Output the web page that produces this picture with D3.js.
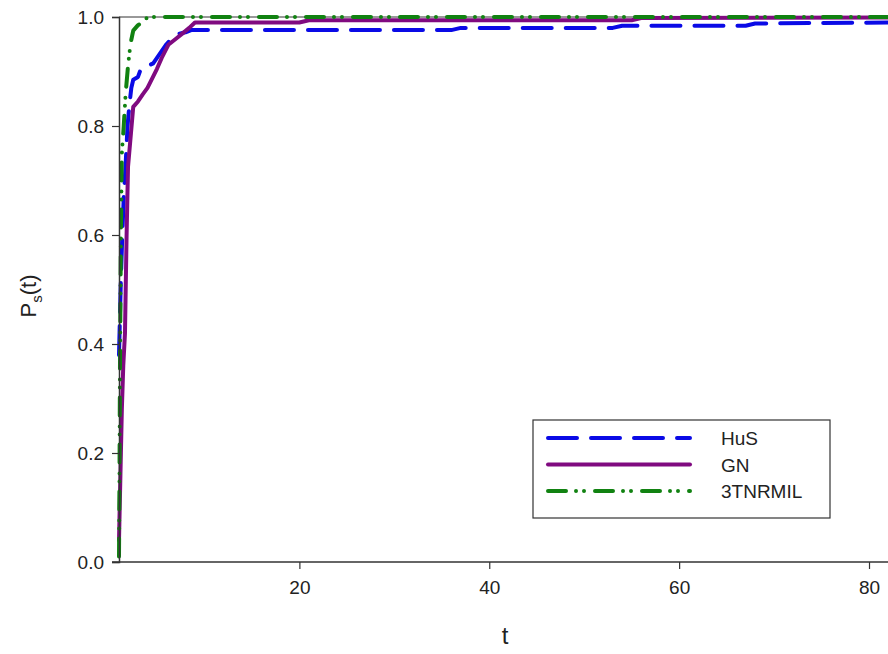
<!DOCTYPE html>
<html>
<head>
<meta charset="utf-8">
<script src="https://cdn.jsdelivr.net/npm/d3@7"></script>
<style>
  body { margin: 0; background: #fff; }
  svg { display: block; font-family: "Liberation Sans", Arial, sans-serif; }
</style>
</head>
<body>
<svg id="chart"></svg>
<script>
// series names, in legend order
var series_names = ["HuS", "GN", "3TNRMIL"];

// HuS (blue, dashed)
var hus_t = [1, 1.1, 1.2, 1.35, 1.5, 1.7, 1.9, 2.1, 2.3, 2.5, 3.0, 3.3, 4.0, 4.6, 5.0, 5.4, 6.0, 6.5, 7.0, 8.0, 8.6, 36, 37, 53, 54, 67, 68, 82];
var hus_p = [0.38, 0.45, 0.52, 0.6, 0.67, 0.73, 0.8, 0.84, 0.87, 0.885, 0.89, 0.905, 0.91, 0.915, 0.925, 0.935, 0.95, 0.96, 0.968, 0.972, 0.976, 0.976, 0.98, 0.98, 0.984, 0.984, 0.988, 0.99];

// GN (purple, solid)
var gn_t = [1, 1.1, 1.2, 1.3, 1.45, 1.63, 1.8, 1.95, 2.26, 2.5, 3.0, 3.5, 4.0, 5.0, 5.5, 6.2, 7.0, 7.7, 8.4, 9.0, 20, 21, 55, 56, 82];
var gn_p = [0.04, 0.12, 0.2, 0.28, 0.36, 0.42, 0.6, 0.725, 0.787, 0.835, 0.845, 0.858, 0.87, 0.905, 0.925, 0.949, 0.96, 0.97, 0.98, 0.99, 0.99, 0.994, 0.994, 0.998, 0.999];

// 3TNRMIL (green, dash-dot-dot)
var tn_t = [1, 1.05, 1.1, 1.2, 1.3, 1.5, 1.7, 1.95, 2.2, 2.5, 3.0, 3.5, 4.0, 82];
var tn_p = [0.01, 0.15, 0.35, 0.6, 0.75, 0.8, 0.86, 0.91, 0.95, 0.975, 0.985, 0.99, 1.0, 1.0];

var x_ticks = [20, 40, 60, 80];
var y_ticks = [0, 0.2, 0.4, 0.6, 0.8, 1.0];

var w = 888, h = 654;
var m_left = 119, m_right = 888, m_top = 17, m_bottom = 562;

var colors = {
  "HuS": "#0a0ae6",
  "GN": "#800a80",
  "3TNRMIL": "#118211"
};
var dashes = {
  "HuS": "29,14",
  "GN": null,
  "3TNRMIL": "18,10,0,8,0,11"
};

var svg = d3.select("#chart").attr("width", w).attr("height", h);

var x = d3.scaleLinear().domain([1, 82]).range([m_left, m_right]);
var y = d3.scaleLinear().domain([0, 1]).range([m_bottom, m_top]);

var series = [
  { name: "HuS", data: d3.zip(hus_t, hus_p) },
  { name: "GN", data: d3.zip(gn_t, gn_p) },
  { name: "3TNRMIL", data: d3.zip(tn_t, tn_p) }
];

var line = d3.line()
  .x(function(d) { return x(d[0]); })
  .y(function(d) { return y(d[1]); });

// top frame line
svg.append("line")
  .attr("x1", m_left).attr("x2", m_right)
  .attr("y1", m_top).attr("y2", m_top)
  .attr("stroke", "#333").attr("stroke-width", 1);

// curves
series.forEach(function(s) {
  svg.append("path")
    .attr("d", line(s.data))
    .attr("fill", "none")
    .attr("stroke", colors[s.name])
    .attr("stroke-width", 4)
    .attr("stroke-linecap", "round")
    .attr("stroke-linejoin", "round")
    .attr("stroke-dasharray", dashes[s.name]);
});

// axes
var xAxis = svg.append("g")
  .attr("transform", "translate(0," + m_bottom + ")")
  .call(d3.axisBottom(x).tickValues(x_ticks).tickSize(7).tickPadding(12).tickFormat(d3.format("d")));

var yAxis = svg.append("g")
  .attr("transform", "translate(" + m_left + ",0)")
  .call(d3.axisLeft(y).tickValues(y_ticks).tickSize(7).tickPadding(8).tickFormat(d3.format(".1f")));

[xAxis, yAxis].forEach(function(a) {
  a.attr("font-family", "'Liberation Sans', Arial, sans-serif").attr("font-size", 19);
  a.select(".domain").attr("stroke", "#333").attr("stroke-width", 1.5);
  a.selectAll(".tick line").attr("stroke", "#333").attr("stroke-width", 1.2);
  a.selectAll(".tick text").attr("fill", "#222");
});
// extend x-axis line under the 0.0 tick
xAxis.select(".domain").attr("d", "M" + (m_left - 7) + ",0H" + m_right);

// axis titles
svg.append("text")
  .attr("x", 505).attr("y", 644)
  .attr("text-anchor", "middle")
  .style("font-size", "24px")
  .attr("fill", "#222")
  .text("t");

var ylab = svg.append("text")
  .attr("transform", "translate(36,296) rotate(-90)")
  .attr("text-anchor", "middle")
  .style("font-size", "22px")
  .attr("fill", "#222");
ylab.append("tspan").text("P");
ylab.append("tspan").attr("dy", 6).style("font-size", "15px").text("s");
ylab.append("tspan").attr("dy", -6).text("(t)");

// legend
var legend = svg.append("g");
legend.append("rect")
  .attr("x", 533).attr("y", 420)
  .attr("width", 297).attr("height", 98)
  .attr("fill", "#fff")
  .attr("stroke", "#333")
  .attr("stroke-width", 1.2);

series_names.forEach(function(name, i) {
  var ly = 438 + i * 26.5;
  legend.append("line")
    .attr("x1", 548).attr("x2", 690)
    .attr("y1", ly).attr("y2", ly)
    .attr("stroke", colors[name])
    .attr("stroke-width", 4)
    .attr("stroke-linecap", "round")
    .attr("stroke-dasharray", dashes[name]);
  legend.append("text")
    .attr("x", 721).attr("y", ly + 7)
    .style("font-size", "19px")
    .attr("fill", "#222")
    .text(name);
});
</script>
</body>
</html>
